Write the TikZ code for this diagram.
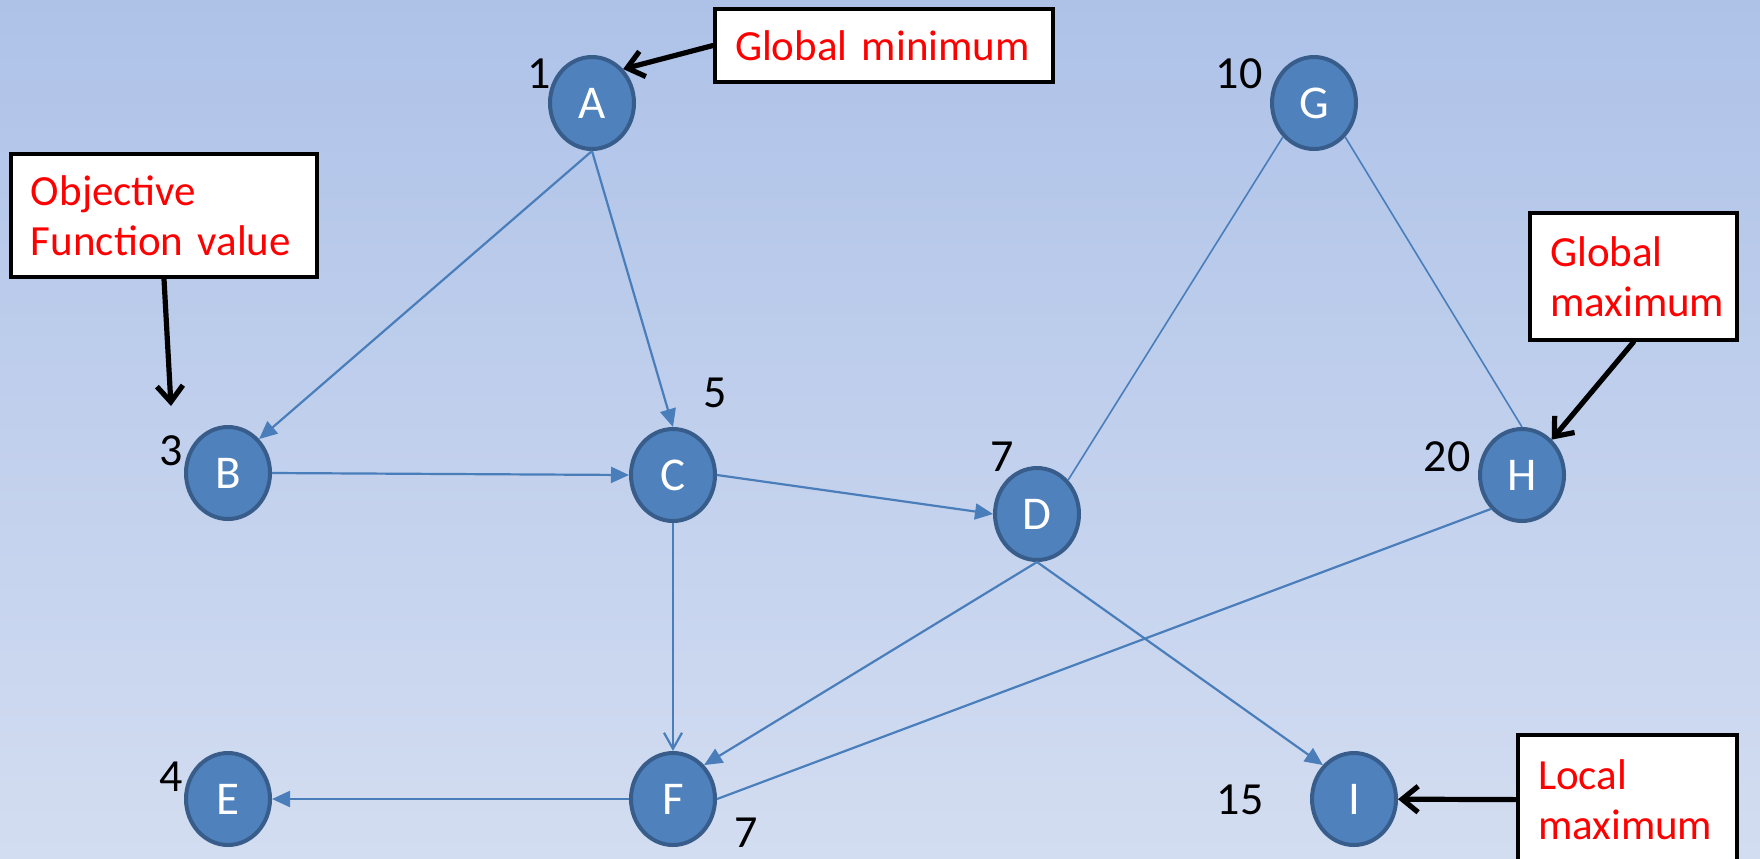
\documentclass[tikz,border=0pt]{standalone}
\usepackage{fontspec}
\setmainfont{Carlito}
\usetikzlibrary{arrows.meta,shapes.geometric}
\definecolor{bgtop}{HTML}{AEC2E8}
\definecolor{bgbot}{HTML}{D3DDF1}
\definecolor{disc}{HTML}{4F81BD}
\definecolor{rim}{HTML}{385D8A}
\definecolor{edge}{HTML}{4A7EBB}

\begin{document}
\begin{tikzpicture}[x=0.5pt,y=-0.5pt,
 v/.style={ellipse,draw=rim,line width=2pt,fill=disc,text=white,minimum width=42pt,
 minimum height=46pt,inner sep=0pt,font=\fontsize{23.5}{27}\selectfont},
 val/.style={inner sep=0pt,font=\fontsize{23}{27}\selectfont},
 bx/.style={draw,line width=2pt,fill=white,text=red,align=left,inner xsep=10pt,
 inner ysep=0pt,font=\fontsize{21.5}{25}\selectfont},
 e/.style={-{Triangle[length=9pt,width=8pt]},draw=edge,line width=1.1pt},
 ln/.style={draw=edge,line width=1.1pt},
 p/.style={-{Straight Barb[length=8pt,width=13pt]},line width=2.6pt,line cap=round}]
 \clip (0,0) rectangle (1760,858);
 \shade[top color=bgtop,bottom color=bgbot] (0,0) rectangle (1760,858);
 % search space
 \node[v] (a) at (592,103) {A};
 \node[v] (g) at (1314,103) {G};
 \node[v] (b) at (228,473) {B};
 \node[v] (c) at (673,475) {C};
 \node[v] (d) at (1037,514) {D};
 \node[v] (h) at (1522,475) {H};
 \node[v] (e) at (228,799) {E};
 \node[v] (f) at (673,799) {F};
 \node[v] (i) at (1354,799) {I};
 % objective values
 \node[val] (va) at (539,74) {1};
 \node[val] (vg) at (1239,74) {10};
 \node[val] (vb) at (171,451) {3};
 \node[val] (vc) at (715,393) {5};
 \node[val] (vd) at (1002,457) {7};
 \node[val] (vh) at (1447,457) {20};
 \node[val] (ve) at (171,777) {4};
 \node[val] (vf) at (746,833) {7};
 \node[val] (vi) at (1240,800) {15};
 \draw[e] (a.south)--(b.north east); \draw[e] (a.south)--(c.north);
 \draw[e] (b.east)--(c.west); \draw[e] (c.east)--(d.west);
 \draw[-{Straight Barb[length=8pt,width=9pt]},draw=edge,line width=1.1pt] (c.south)--(f.north);
 \draw[e] (d.south)--(f.north east); \draw[e] (d.south)--(i.north west);
 \draw[e] (f.west)--(e.east); \draw[ln] (h.south west)--(f.east);
 \draw[ln,line width=0.8pt] (g.south west)--(d.north east);
 \draw[ln,line width=0.8pt] (g.south east)--(h.north);
 % callouts
 \node[bx,text width=149pt,minimum height=36.5pt] (gmin) at (884,45.5) {Global minimum};
 \node[bx,text width=133pt,minimum height=61.5pt] (obj) at (164,215.5) {Objective\\Function value};
 \node[bx,text width=83.5pt,minimum height=63.5pt] (gmax) at (1633.5,276.5) {Global\\maximum};
 \node[bx,text width=89.5pt,minimum height=65pt] (lmax) at (1627.5,800) {Local\\maximum};
 \coordinate (ob) at (171,406);
 \draw[p] (gmin.west)--(a.north east); \draw[p] (obj.south)--(ob);
 \draw[p] (gmax.south)--(h); \draw[p] (lmax)--(i);
\end{tikzpicture}
\end{document}
